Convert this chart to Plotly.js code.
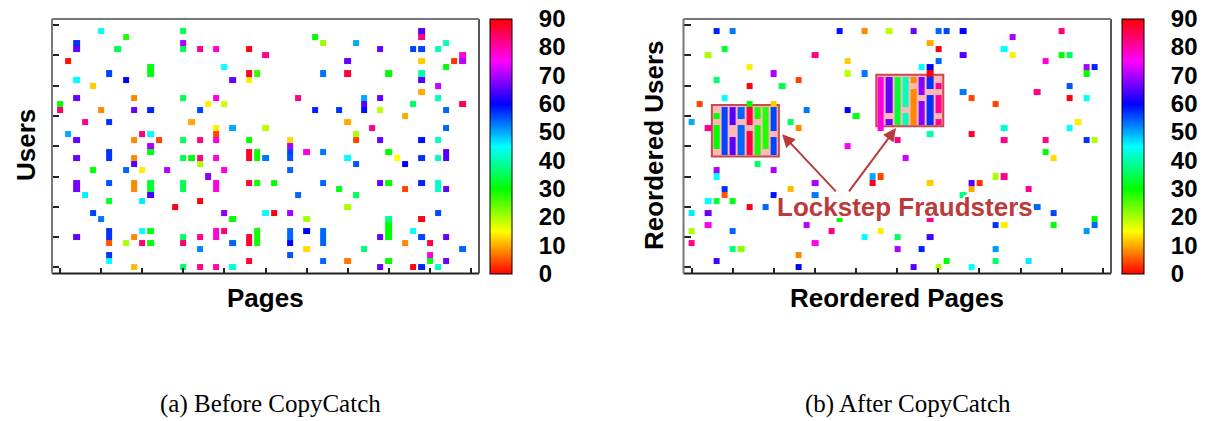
<!DOCTYPE html>
<html><head><meta charset="utf-8">
<script src="https://cdn.plot.ly/plotly-3.0.1.min.js"></script>
<style>html,body{margin:0;padding:0;background:#fff}</style>
</head><body><div id="chart" style="width:1205px;height:421px"></div>
<script>
// grid size (pages x users)
const nCols = 51, nRows = 41;

// Panel (a): Before CopyCatch  -- page index, user index, value
const colsA = [5,15,8,2,15,2,7,15,17,19,23,25,1,11,11,20,6,23,24,2,8,21,23,4,2,9,15,19,0,18,20,0,5,9,11,17,3,6,16,19,21,25,1,10,11,19,2,9,12,15,17,19,23,11,6,11,23,24,
 44,31,44,32,36,47,39,43,44,46,49,35,44,48,49,47,32,35,40,44,44,46,44,29,37,39,46,37,43,49,31,34,37,39,47,42,35,38,47,36,28,36,39,44,46,28,28,28,30,32,40,47,47,
 6,2,9,9,15,16,17,19,23,24,25,17,4,8,10,13,20,18,2,2,6,9,9,11,11,15,15,19,19,23,24,26,3,11,6,10,17,14,4,20,25,26,5,21,6,6,6,10,11,19,19,20,24,24,24,2,9,15,17,23,23,8,10,11,15,21,6,17,6,23,6,9,15,17,19,21,
 39,41,44,46,35,42,36,28,32,40,44,44,46,46,47,39,42,34,36,29,35,46,28,30,44,40,40,40,40,28,28,28,32,32,32,42,43,30,39,44,47,47,45,28,37,49,30,45,28,32,40,45,47,35,39,43,44,46];
const rowsA = [39,39,38,37,37,36,36,36,36,36,36,35,34,33,32,33,32,32,32,31,31,31,31,30,28,28,28,28,27,27,27,26,26,26,26,26,24,24,24,23,23,23,22,22,22,22,21,21,21,21,21,21,21,20,19,19,19,19,
 39,38,38,37,37,37,36,36,36,36,35,34,34,34,34,33,32,32,32,32,31,30,29,28,28,28,28,27,27,27,26,26,26,26,26,25,24,23,23,22,21,21,21,21,21,20,19,18,19,19,19,19,18,
 18,18,18,17,18,18,18,18,18,18,18,17,16,16,16,16,16,15,14,13,14,14,13,14,13,14,13,14,13,14,14,14,12,12,11,11,11,10,9,9,9,9,8,8,6,5,4,6,6,6,5,6,6,5,4,5,5,5,5,5,4,4,4,4,4,4,4,3,2,1,1,0,0,0,0,0,0,
 18,18,18,18,17,17,16,14,14,14,14,13,14,13,14,13,13,12,12,10,9,9,8,8,8,7,6,5,4,6,5,4,6,5,4,6,6,5,5,5,5,4,4,3,3,3,2,2,1,1,1,1,1,0,0,0,0,0];
const valsA = [45,35,28,57,70,66,35,35,82,77,89,82,1,31,31,45,56,87,27,45,60,66,14,12,66,8,35,77,30,14,18,84,8,66,58,56,82,57,10,14,50,19,50,83,45,4,66,8,4,35,82,77,30,70,57,31,87,29,
 65,30,82,21,50,41,66,56,56,41,77,66,12,3,71,30,53,87,30,40,65,72,10,82,50,66,41,65,36,85,58,57,59,19,54,10,10,82,54,20,13,4,66,59,41,70,56,55,77,53,30,65,65,
 57,66,8,65,35,30,82,77,87,29,53,20,30,54,14,71,77,68,67,67,55,8,8,33,33,35,35,77,77,86,29,30,46,64,32,46,89,89,56,68,45,89,53,30,57,57,57,45,31,77,77,83,29,29,29,66,8,36,82,87,87,20,83,31,84,54,5,52,57,87,45,11,36,82,80,43,
 66,15,57,41,45,60,55,54,54,30,58,58,42,42,66,66,4,31,35,54,20,56,70,20,89,38,30,30,30,54,54,54,54,54,54,8,45,60,66,56,66,66,86,60,37,54,13,77,55,54,30,31,66,7,66,89,58,41];

// Panel (b): After CopyCatch -- scattered (non-fraud) cells
const colsB = [3,5,18,21,24,27,30,31,33,45,39,29,4,30,38,2,15,33,39,45,46,19,30,43,7,28,29,48,49,10,19,21,29,48,3,13,7,11,46,33,42,4,34,46,48,1,7,10,37,14,19,20,0,12,47,2,13,23,38,46,29,34,25,38,43,48,49,19,43,26,44,8,3,10,3,22,23,37,38,15,22,29,34,35,4,12,34,41,4,10,15,33,2,3,5,7,9,40,42,0,2,34,44,18,29,49,2,14,37,38,44,49,0,5,17,23,48,21,25,29,0,15,5,6,25,28,37,13,3,31,37,41,13,27,30,34];
const rowsB = [39,39,39,39,39,39,39,39,39,39,38,37,36,36,36,35,35,35,35,35,35,34,34,34,33,33,33,33,33,32,32,32,32,32,31,31,30,30,30,29,29,28,28,28,28,27,27,27,27,26,26,25,24,24,24,23,23,23,23,23,22,22,21,21,21,21,21,20,19,18,18,17,16,16,15,15,15,15,15,14,14,14,14,14,13,13,13,13,12,12,12,12,11,11,11,10,10,10,10,9,9,9,9,8,8,8,7,7,7,7,7,7,6,6,6,6,6,5,5,5,4,4,3,3,3,3,3,2,1,1,1,1,0,0,0,0];
const valsB = [58,53,59,8,19,66,54,56,60,83,70,10,33,89,45,20,82,65,14,30,36,12,54,77,14,45,60,70,58,70,19,53,89,30,36,4,89,35,55,53,82,45,4,89,45,4,30,12,4,53,60,31,50,36,14,82,8,76,42,45,40,87,82,82,82,57,20,76,30,72,13,36,70,70,45,50,4,20,82,70,89,12,65,3,57,11,10,82,5,59,53,37,45,33,31,89,54,89,54,46,66,20,56,30,82,30,76,71,57,14,30,54,20,54,83,14,51,45,36,64,82,76,37,22,70,58,51,8,64,30,36,46,60,65,20,45];

// Panel (b): the two lockstep blocks (page columns, colour value per column, user rows filled per column)
const cluster1Cols = [3,4,5,6,7,8,9,10];
const cluster1Vals = [30,56,65,54,86,29,28,56];
const cluster1Rows = [[20,21,22,23,25],[19,20,21,22,23,24,25,26],[19,20,21,24,25,26],[19,20,21,22,23,25,26],
                      [19,20,21,22,24,25,26],[19,20,21,22,23,25,26],[20,21,22,23,24,25,26],[19,20,21,23,24,25,26]];
const cluster2Cols = [23,24,25,26,27,28,29,30];
const cluster2Vals = [77,66,33,41,8,68,57,81];
const cluster2Rows = [[24,25,26,27,28,29,30,31],[24,26,27,28,29,30,31],[24,25,26,27,28,29,30,31],[24,25,27,28,29,30,31],
                      [24,25,26,27,28,29,31],[24,25,26,27,29,30,31],[24,25,26,27,28,30,31],[24,26,27,28,30]];

const colorTicks = [0,10,20,30,40,50,60,70,80,90];
const xTicks = [0,5,10,15,20,25,30,35,40,45,50];
const yTicks = [0,5,10,15,20,25,30,35,40];

function emptyGrid(){ return Array.from({length:nRows}, () => Array(nCols).fill(null)); }
function fill(z, cols, rows, vals){ for (let i=0;i<cols.length;i++) z[rows[i]][cols[i]] = vals[i]; }
function fillCluster(z, cols, vals, rowsPer){ cols.forEach((c,i)=> rowsPer[i].forEach(r => { z[r][c] = vals[i]; })); }

const zA = emptyGrid(); fill(zA, colsA, rowsA, valsA);
const zB = emptyGrid(); fill(zB, colsB, rowsB, valsB);
fillCluster(zB, cluster1Cols, cluster1Vals, cluster1Rows);
fillCluster(zB, cluster2Cols, cluster2Vals, cluster2Rows);

const xs = Array.from({length:nCols}, (_,i)=>i);
const ys = Array.from({length:nRows}, (_,i)=>i);

const hsv = [[0,'#ff0000'],[1/6,'#ffff00'],[2/6,'#00ff00'],[3/6,'#00ffff'],[4/6,'#0000ff'],[5/6,'#ff00ff'],[1,'#ff0000']];
const W = 1205, H = 421;
const sans = 'Liberation Sans, Arial, Helvetica, sans-serif';

function cbar(leftPx){
  return {x: leftPx/W, xanchor:'left', y: 1-146.25/H, yanchor:'middle', len: 254.5/H, lenmode:'fraction',
    thickness: 22, thicknessmode:'pixels', xpad:0, ypad:0, outlinewidth:1, outlinecolor:'#000',
    tickmode:'array', tickvals: colorTicks, ticks:'outside', ticklen: 22, tickcolor:'rgba(0,0,0,0)',
    tickfont:{family: sans, size: 24, color:'#000', weight: 700}};
}

const traces = [
  {type:'heatmap', x: xs, y: ys, z: zA, xaxis:'x', yaxis:'y', colorscale: hsv, zmin:0, zmax:90,
   xgap:2, ygap:0, hoverongaps:false, colorbar: cbar(490)},
  {type:'heatmap', x: xs, y: ys, z: zB, xaxis:'x2', yaxis:'y2', colorscale: hsv, zmin:0, zmax:90,
   xgap:2, ygap:0, hoverongaps:false, colorbar: cbar(1122)}
];

function xax(domain, anchor){
  return {domain, anchor, range:[-1,51], tickmode:'array', tickvals: xTicks, ticks:'inside', ticklen:6, tickwidth:2,
    tickcolor:'#222', showticklabels:false, showgrid:false, zeroline:false, showline:false, fixedrange:true};
}
function yax(anchor){
  return {domain:[1-273.5/H, 1-19/H], anchor, range:[-1,41], tickmode:'array', tickvals: yTicks, ticks:'inside', ticklen:7, tickwidth:2,
    tickcolor:'#222', showticklabels:false, showgrid:false, zeroline:false, showline:false, fixedrange:true};
}

function frame(xr, yr){
  const mk = (x0,y0,x1,y1,c) => ({type:'line', xref: xr+' domain', yref: yr+' domain', x0,y0,x1,y1, line:{color:c, width:2}, layer:'above'});
  return [mk(0,0,1,0,'#222'), mk(1,0,1,1,'#555'), mk(0,1,1,1,'#777'), mk(0,0,0,1,'#777')];
}
function clusterBox(cols, rowsPer){
  const allRows = rowsPer.flat();
  return {type:'rect', xref:'x2', yref:'y2', x0: Math.min(...cols)-0.55, x1: Math.max(...cols)+0.6,
    y0: Math.min(...allRows)-0.7, y1: Math.max(...allRows)+0.8, fillcolor:'#ffb8b8', line:{color:'#c84a4a', width:2}, layer:'below'};
}

const red = '#bd3a3a';
function label(text, xpx, ypx, extra){
  return Object.assign({text, xref:'paper', yref:'paper', x: xpx/W, y: 1-ypx/H, xanchor:'center', yanchor:'middle', showarrow:false,
    font:{family:sans, size:26, color:'#000', weight:700}}, extra || {});
}
const serif = {family:'Liberation Serif, Times New Roman, serif', size:25, color:'#000'};
const layout = {
  width: W, height: H, margin:{l:0,r:0,t:0,b:0}, paper_bgcolor:'#fff', plot_bgcolor:'#fff', showlegend:false,
  xaxis: xax([52/W, 479/W], 'y'), yaxis: yax('x'),
  xaxis2: xax([683.5/W, 1111/W], 'y2'), yaxis2: yax('x2'),
  shapes: [...frame('x','y'), ...frame('x2','y2'), clusterBox(cluster1Cols, cluster1Rows), clusterBox(cluster2Cols, cluster2Rows)],
  annotations: [
    label('Pages', 265.5, 298),
    label('Reordered Pages', 897, 298),
    label('Users', 26, 145, {textangle:-90}),
    label('Reordered Users', 654, 145, {textangle:-90}),
    label('(a) Before CopyCatch', 270, 404, {font: serif}),
    label('(b) After CopyCatch', 908, 404, {font: serif}),
    {text:'', xref:'x2', yref:'y2', x: 10.99, y: 22.0, axref:'x2', ayref:'y2', ax: 17.7, ay: 12.3, showarrow:true,
     arrowhead:2, arrowsize:1.3, arrowwidth:2, arrowcolor: red, standoff:0},
    {text:'', xref:'x2', yref:'y2', x: 24.85, y: 23.0, axref:'x2', ayref:'y2', ax: 19.0, ay: 12.3, showarrow:true,
     arrowhead:2, arrowsize:1.3, arrowwidth:2, arrowcolor: red, standoff:0},
    label('Lockstep Fraudsters', 905, 207, {font:{family:sans, size:26, color: red, weight:700,
      shadow:'2px 2px 0 #fff, -2px -2px 0 #fff, 2px -2px 0 #fff, -2px 2px 0 #fff, 0 2px 0 #fff, 0 -2px 0 #fff, 2px 0 0 #fff, -2px 0 0 #fff'}})
  ]
};

Plotly.newPlot('chart', traces, layout, {staticPlot:true, displayModeBar:false});
</script></body></html>
